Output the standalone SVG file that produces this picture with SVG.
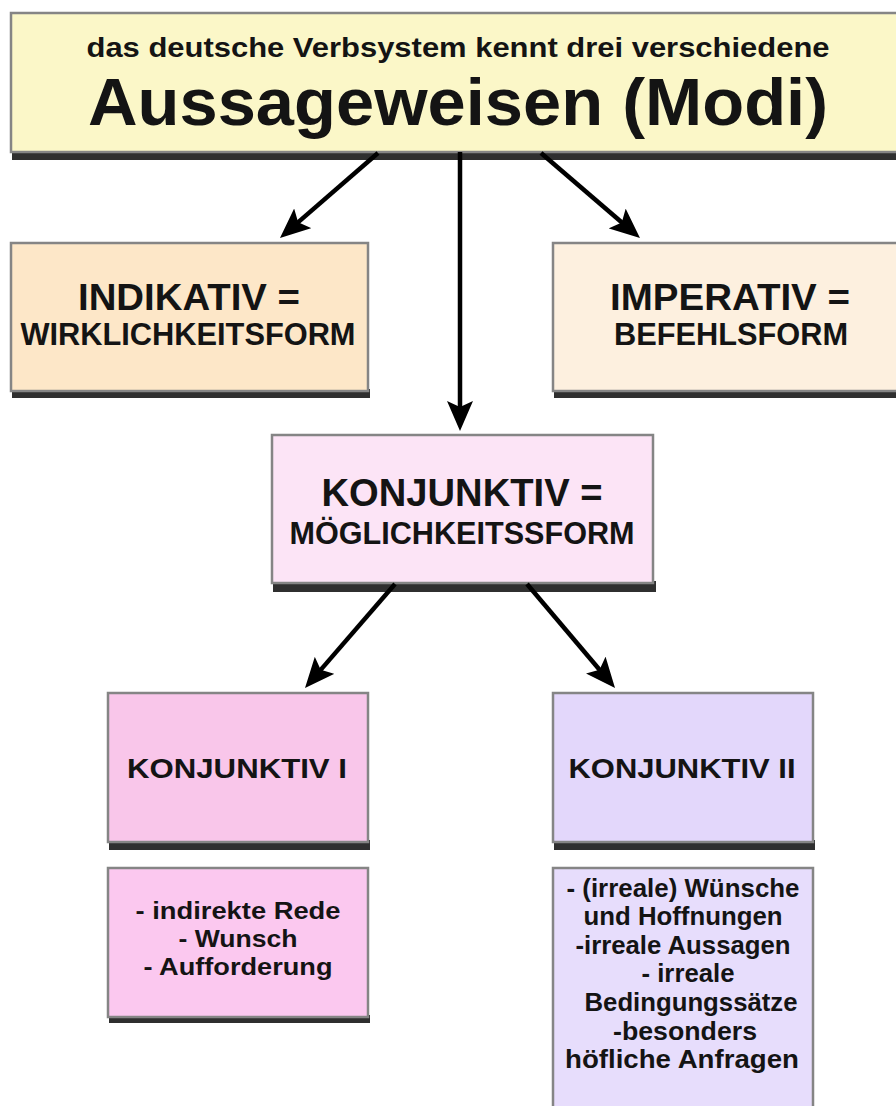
<svg xmlns="http://www.w3.org/2000/svg" width="896" height="1106" viewBox="0 0 896 1106">
  <style>
    .box { stroke: #858585; stroke-width: 2.5; }
    .shadow { fill: #2f2f2f; }
    .t { font-family: "Liberation Sans", Arial, sans-serif; font-weight: bold; fill: #141414; text-anchor: middle; }
    .conn { stroke: #000; stroke-width: 4.5; fill: none; marker-end: url(#ah); }
  </style>
  <defs>
    <marker id="ah" viewBox="0 0 30 26" markerWidth="30" markerHeight="26" refX="10" refY="13" orient="auto" markerUnits="userSpaceOnUse">
      <path d="M0,0 L30,13 L0,26 L6,13 z" fill="#000"/>
    </marker>
  </defs>
  <rect width="896" height="1106" fill="#ffffff"/>

  <g id="modi">
    <rect class="shadow" x="12" y="150" width="900" height="10"/>
    <rect class="box" x="11" y="13" width="900" height="139" fill="#fbf7c8"/>
    <text class="t" x="458" y="57" font-size="28" textLength="743" lengthAdjust="spacingAndGlyphs">das deutsche Verbsystem kennt drei verschiedene</text>
    <text class="t" x="458" y="125" font-size="66" textLength="740" lengthAdjust="spacingAndGlyphs">Aussageweisen (Modi)</text>
  </g>

  <g id="indikativ">
    <rect class="shadow" x="12" y="389" width="358" height="9"/>
    <rect class="box" x="11" y="243" width="357" height="148" fill="#fde7c8"/>
    <text class="t" x="189" y="310" font-size="36" textLength="222" lengthAdjust="spacingAndGlyphs">INDIKATIV =</text>
    <text class="t" x="188" y="345" font-size="32" textLength="335" lengthAdjust="spacingAndGlyphs">WIRKLICHKEITSFORM</text>
  </g>

  <g id="imperativ">
    <rect class="shadow" x="554" y="389" width="360" height="9"/>
    <rect class="box" x="553" y="243" width="360" height="148" fill="#fdf0df"/>
    <text class="t" x="730" y="310" font-size="36" textLength="240" lengthAdjust="spacingAndGlyphs">IMPERATIV =</text>
    <text class="t" x="731" y="345" font-size="32" textLength="234" lengthAdjust="spacingAndGlyphs">BEFEHLSFORM</text>
  </g>

  <g id="konjunktiv">
    <rect class="shadow" x="273" y="581" width="383" height="11"/>
    <rect class="box" x="272" y="435" width="381" height="148" fill="#fce4f6"/>
    <text class="t" x="462" y="506" font-size="39" textLength="281" lengthAdjust="spacingAndGlyphs">KONJUNKTIV =</text>
    <text class="t" x="462" y="544" font-size="32" textLength="345" lengthAdjust="spacingAndGlyphs">MÖGLICHKEITSSFORM</text>
  </g>

  <g id="konjunktiv1">
    <rect class="shadow" x="109" y="840" width="261" height="10"/>
    <rect class="box" x="108" y="693" width="260" height="149" fill="#f9c6ea"/>
    <text class="t" x="237" y="778" font-size="28" textLength="220" lengthAdjust="spacingAndGlyphs">KONJUNKTIV I</text>
  </g>

  <g id="konjunktiv1-verwendung">
    <rect class="shadow" x="109" y="1015" width="261" height="8"/>
    <rect class="box" x="108" y="868" width="260" height="149" fill="#fbc8ef"/>
    <text class="t" x="238" y="919" font-size="24" textLength="205" lengthAdjust="spacingAndGlyphs">- indirekte Rede</text>
    <text class="t" x="238" y="947" font-size="24" textLength="119" lengthAdjust="spacingAndGlyphs">- Wunsch</text>
    <text class="t" x="238" y="975" font-size="24" textLength="189" lengthAdjust="spacingAndGlyphs">- Aufforderung</text>
  </g>

  <g id="konjunktiv2">
    <rect class="shadow" x="554" y="840" width="261" height="10"/>
    <rect class="box" x="553" y="693" width="260" height="149" fill="#e3d7fb"/>
    <text class="t" x="682" y="778" font-size="28" textLength="227" lengthAdjust="spacingAndGlyphs">KONJUNKTIV II</text>
  </g>

  <g id="konjunktiv2-verwendung">
    <rect class="box" x="553" y="868" width="260" height="250" fill="#e7ddfc"/>
    <text class="t" x="683" y="897" font-size="25" textLength="233" lengthAdjust="spacingAndGlyphs">- (irreale) Wünsche</text>
    <text class="t" x="683" y="925" font-size="25" textLength="199" lengthAdjust="spacingAndGlyphs">und Hoffnungen</text>
    <text class="t" x="683" y="954" font-size="25" textLength="215" lengthAdjust="spacingAndGlyphs">-irreale Aussagen</text>
    <text class="t" x="688" y="982" font-size="25" textLength="93" lengthAdjust="spacingAndGlyphs">- irreale</text>
    <text class="t" x="691" y="1011" font-size="25" textLength="213" lengthAdjust="spacingAndGlyphs">Bedingungssätze</text>
    <text class="t" x="685" y="1040" font-size="25" textLength="144" lengthAdjust="spacingAndGlyphs">-besonders</text>
    <text class="t" x="682" y="1068" font-size="25" textLength="234" lengthAdjust="spacingAndGlyphs">höfliche Anfragen</text>
  </g>

  <g id="connectors">
    <line class="conn" x1="378" y1="153" x2="295.1" y2="224.9"/>
    <line class="conn" x1="460" y1="152" x2="460" y2="411"/>
    <line class="conn" x1="541" y1="153" x2="624.8" y2="225"/>
    <line class="conn" x1="395" y1="584" x2="318.1" y2="672.9"/>
    <line class="conn" x1="527" y1="584" x2="602.1" y2="672.7"/>
  </g>
</svg>
